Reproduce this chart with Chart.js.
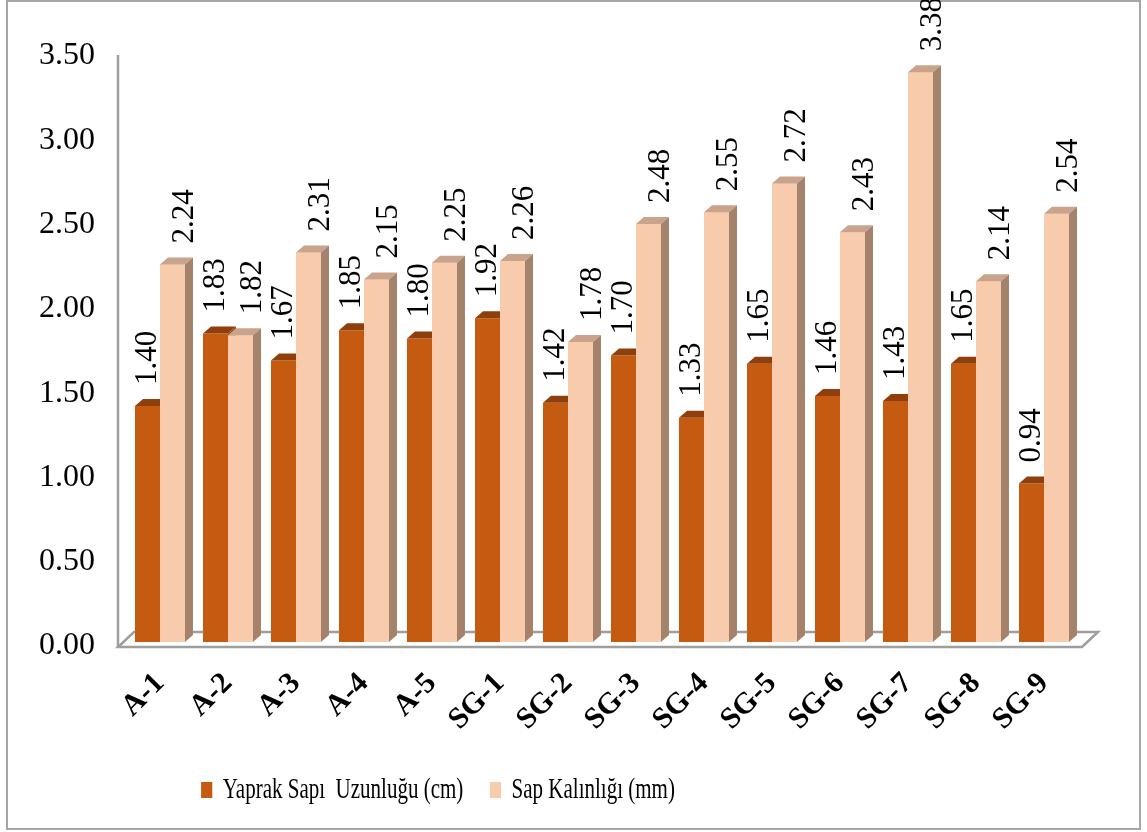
<!DOCTYPE html>
<html>
<head>
<meta charset="utf-8">
<script src="https://cdn.jsdelivr.net/npm/chart.js@4.4.0/dist/chart.umd.min.js"></script>
<style>
  html, body { margin: 0; padding: 0; background: #fff; }
  #wrap { width: 1147px; height: 832px; position: relative; }
</style>
</head>
<body>
<div id="wrap"><canvas id="barChart"></canvas></div>
<script>
// Data
const categories = ['A-1', 'A-2', 'A-3', 'A-4', 'A-5', 'SG-1', 'SG-2', 'SG-3', 'SG-4', 'SG-5', 'SG-6', 'SG-7', 'SG-8', 'SG-9'];
const petioleLength = [1.40, 1.83, 1.67, 1.85, 1.80, 1.92, 1.42, 1.70, 1.33, 1.65, 1.46, 1.43, 1.65, 0.94];
const stemThickness = [2.24, 1.82, 2.31, 2.15, 2.25, 2.26, 1.78, 2.48, 2.55, 2.72, 2.43, 3.38, 2.14, 2.54];
const yTicks = [0, 0.5, 1, 1.5, 2, 2.5, 3, 3.5];

const SERIF = '"Liberation Serif", "Times New Roman", serif';
const DEPTH_X = 8, DEPTH_Y = 7;
const LEGEND_SQUEEZE = 0.7; // legend font in the reference is narrow

// front, top and side colours per series
const faces = [
  { front: '#C55A11', top: '#8F3F0B', side: '#9C4810' },
  { front: '#F8CBAD', top: '#C9A38B', side: '#A5826C' }
];

function drawBox(ctx, el, f, drawFront) {
  const p = el.getProps(['x', 'y', 'base', 'width'], true);
  const x0 = p.x - p.width / 2, x1 = p.x + p.width / 2;
  if (drawFront) {
    ctx.fillStyle = f.front;
    ctx.fillRect(x0, p.y, p.width, p.base - p.y);
  }
  // top face
  ctx.fillStyle = f.top;
  ctx.beginPath();
  ctx.moveTo(x0, p.y);
  ctx.lineTo(x1, p.y);
  ctx.lineTo(x1 + DEPTH_X, p.y - DEPTH_Y);
  ctx.lineTo(x0 + DEPTH_X, p.y - DEPTH_Y);
  ctx.closePath();
  ctx.fill();
  // side face
  ctx.fillStyle = f.side;
  ctx.beginPath();
  ctx.moveTo(x1, p.y);
  ctx.lineTo(x1 + DEPTH_X, p.y - DEPTH_Y);
  ctx.lineTo(x1 + DEPTH_X, p.base - DEPTH_Y);
  ctx.lineTo(x1, p.base);
  ctx.closePath();
  ctx.fill();
}

const frame3d = {
  id: 'frame3d',
  afterLayout(chart) {
    const lg = chart.legend;
    lg.top = 737;
    if (!lg._squeezed) {
      const orig = lg.draw.bind(lg);
      lg.draw = function (area) {
        const c = (this.left + this.right) / 2;
        const target = 438;
        chart.ctx.save();
        chart.ctx.translate(target - c * LEGEND_SQUEEZE, 0);
        chart.ctx.scale(LEGEND_SQUEEZE, 1);
        orig(area);
        chart.ctx.restore();
      };
      lg._squeezed = true;
    }
  },
  beforeDatasetsDraw(chart) {
    const { ctx, chartArea: a } = chart;
    ctx.save();
    // outer border
    ctx.strokeStyle = '#A6A6A6';
    ctx.lineWidth = 2;
    ctx.strokeRect(7, 1, 1133, 828);
    // vertical axis line
    ctx.strokeStyle = '#9E9E9E';
    ctx.lineWidth = 2.5;
    const fy = a.bottom + 5, by = a.bottom - 10;
    const lx = a.left - 8, rx = a.right + 4;
    ctx.beginPath();
    ctx.moveTo(lx, a.top + 3);
    ctx.lineTo(lx, fy);
    ctx.stroke();
    // floor
    ctx.beginPath();
    ctx.moveTo(lx, fy);
    ctx.lineTo(rx, fy);
    ctx.lineTo(rx + 16, by);
    ctx.lineTo(lx + 16, by);
    ctx.closePath();
    ctx.stroke();
    ctx.restore();
  },
  afterDatasetsDraw(chart) {
    const { ctx } = chart;
    const m0 = chart.getDatasetMeta(0), m1 = chart.getDatasetMeta(1);
    ctx.save();
    m0.data.forEach((el, i) => {
      drawBox(ctx, el, faces[0], false);
      drawBox(ctx, m1.data[i], faces[1], true);
    });
    // value labels, rotated
    ctx.fillStyle = '#000';
    ctx.font = '31px ' + SERIF;
    ctx.textAlign = 'left';
    ctx.textBaseline = 'middle';
    [m0, m1].forEach((meta, d) => {
      meta.data.forEach((el, i) => {
        const v = chart.data.datasets[d].data[i];
        ctx.save();
        ctx.translate(el.x + (d === 1 ? 12 : 0), el.y - 21);
        ctx.rotate(-Math.PI / 2);
        ctx.fillText(v.toFixed(2), 0, 0);
        ctx.restore();
      });
    });
    ctx.restore();
  }
};

const ctx = document.getElementById('barChart').getContext('2d');
new Chart(ctx, {
  type: 'bar',
  data: {
    labels: categories,
    datasets: [{
      label: 'Yaprak Sapı  Uzunluğu (cm)',
      data: petioleLength,
      backgroundColor: faces[0].front,
      borderWidth: 0
    }, {
      label: 'Sap Kalınlığı (mm)',
      data: stemThickness,
      backgroundColor: faces[1].front,
      borderWidth: 0
    }]
  },
  options: {
    responsive: true,
    maintainAspectRatio: false,
    animation: false,
    barPercentage: 1.0,
    categoryPercentage: 0.735,
    layout: { padding: { top: 52, right: 69, bottom: 18, left: 0 } },
    plugins: {
      legend: {
        position: 'bottom',
        labels: {
          color: '#000',
          font: { family: SERIF, size: 30 },
          boxWidth: 16,
          boxHeight: 16,
          padding: 38
        }
      },
      tooltip: { enabled: false }
    },
    scales: {
      x: {
        grid: { display: false, drawTicks: false },
        border: { display: false },
        ticks: {
          color: '#000',
          font: { family: SERIF, size: 30, weight: 'bold' },
          minRotation: 45,
          maxRotation: 45,
          padding: 24
        },
        afterFit: s => { s.height = 94; }
      },
      y: {
        min: 0,
        max: 3.5,
        afterBuildTicks: s => { s.ticks = yTicks.map(v => ({ value: v })); },
        grid: { display: false, drawTicks: false },
        border: { display: false },
        ticks: {
          color: '#000',
          font: { family: SERIF, size: 32 },
          padding: 31,
          labelOffset: 4,
          callback: v => Number(v).toFixed(2)
        },
        afterFit: s => { s.width = 126; }
      }
    }
  },
  plugins: [frame3d]
});
</script>
</body>
</html>
